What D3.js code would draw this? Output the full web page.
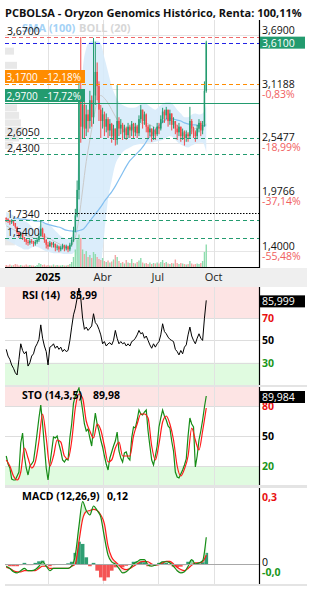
<!DOCTYPE html>
<html>
<head>
<meta charset="utf-8">
<script src="https://cdn.jsdelivr.net/npm/d3@7"></script>
<style>
  body { margin: 0; background: #fff; }
  svg { display: block; font-family: "Open Sans", "Noto Sans", sans-serif; }
</style>
</head>
<body>
<div id="chart"></div>
<script>
const title = "PCBOLSA - Oryzon Genomics Histórico, Renta: 100,11%";

// daily-ish candles, one every 3 days from 24 Oct 2024
const firstOpen = 1.75;
const close = [
  1.74,1.73,1.71,1.72,1.70,1.66,1.60,1.56,1.58,1.55,
  1.53,1.50,1.49,1.51,1.50,1.48,1.50,1.52,1.56,1.64,
  1.58,1.52,1.47,1.45,1.49,1.47,1.48,1.44,1.45,1.42,
  1.44,1.46,1.43,1.45,1.42,1.47,1.52,1.62,1.78,2.05,
  3.05,2.72,2.95,2.70,2.85,2.78,3.00,2.82,3.05,3.30,
  3.15,2.90,2.78,2.85,2.72,2.80,2.68,2.75,2.62,2.70,
  2.58,2.78,2.70,2.74,2.66,2.70,2.63,2.72,2.68,2.75,
  2.66,2.72,2.65,2.80,2.90,2.78,2.85,2.72,2.66,2.70,
  2.62,2.68,2.64,2.72,2.70,2.80,2.88,2.84,2.90,2.78,
  2.86,2.74,2.78,2.70,2.66,2.72,2.62,2.66,2.60,2.64,
  2.62,2.78,2.70,2.66,2.62,2.70,2.76,2.68,2.74,3.10,3.61
];
const high = [
  1.76,1.75,1.73,1.74,1.72,1.70,1.64,1.60,1.60,1.58,
  1.55,1.53,1.52,1.53,1.53,1.51,1.52,1.54,1.59,1.73,
  1.65,1.59,1.53,1.50,1.51,1.50,1.50,1.48,1.47,1.46,
  1.46,1.48,1.47,1.47,1.46,1.49,1.55,1.66,1.85,2.15,
  3.20,3.67,3.10,2.98,2.95,2.90,3.10,3.05,3.66,3.62,
  3.40,3.20,2.95,2.92,2.88,2.86,2.82,2.80,2.76,2.74,
  2.70,3.16,2.82,2.80,2.76,2.74,2.72,2.76,2.74,2.78,
  2.76,2.76,2.74,2.84,2.95,2.88,2.88,2.86,2.74,2.74,
  2.70,2.72,2.70,2.76,2.76,2.84,2.92,2.90,2.93,2.88,
  2.90,2.86,2.82,2.78,2.74,2.76,2.72,2.70,2.68,2.68,
  2.66,2.93,2.80,2.72,2.68,2.74,2.80,2.78,2.78,3.20,3.63
];
const low = [
  1.71,1.70,1.68,1.69,1.67,1.64,1.58,1.54,1.54,1.52,
  1.50,1.47,1.46,1.47,1.48,1.45,1.46,1.48,1.50,1.56,
  1.55,1.49,1.43,1.42,1.45,1.44,1.44,1.40,1.41,1.39,
  1.40,1.42,1.40,1.41,1.39,1.40,1.45,1.50,1.60,1.76,
  1.95,2.55,2.60,2.60,2.62,2.66,2.70,2.72,2.75,2.95,
  3.00,2.78,2.60,2.70,2.62,2.66,2.60,2.62,2.55,2.58,
  2.52,2.53,2.62,2.64,2.58,2.60,2.58,2.60,2.60,2.62,
  2.60,2.62,2.60,2.62,2.76,2.70,2.74,2.66,2.60,2.62,
  2.56,2.58,2.58,2.62,2.64,2.68,2.76,2.76,2.80,2.72,
  2.74,2.68,2.70,2.64,2.58,2.62,2.56,2.58,2.52,2.56,
  2.56,2.60,2.64,2.60,2.56,2.60,2.66,2.62,2.64,2.72,3.08
];
const volume = [
  0.4,0.3,0.5,0.3,0.4,0.6,0.5,0.3,0.4,0.3,
  0.3,0.5,0.3,0.4,0.3,0.3,0.2,0.4,0.8,0.6,
  0.4,0.5,0.3,0.4,0.3,0.3,0.5,0.3,0.4,0.3,
  0.3,0.4,0.3,0.3,0.4,0.6,1.0,2.0,3.5,5.5,
  6.5,5.8,3.5,2.6,3.2,2.0,2.4,1.8,3.0,2.6,
  2.0,1.6,1.4,1.8,1.2,1.0,1.3,0.9,1.1,1.5,
  2.4,2.0,1.2,0.8,1.0,0.7,1.4,0.9,0.8,1.6,
  0.8,0.7,1.0,1.3,1.8,0.9,0.7,0.8,0.6,0.9,
  0.6,0.8,0.7,0.9,0.7,1.0,1.4,0.8,1.0,0.7,
  0.6,0.8,0.7,1.5,0.8,0.6,0.8,0.7,0.6,0.5,
  0.6,1.2,0.7,0.5,0.6,0.7,0.6,0.8,1.2,3.0,4.5
];
const rsi = [
  42,36,33,28,25,21,19,33,47,41,
  38,40,27,30,36,38,44,47,51,64,
  52,45,40,28,44,45,47,43,45,42,
  44,40,42,40,41,50,62,73,79,88,
  97,88,70,60,62,59,61,63,74,66,
  64,60,55,47,49,45,47,48,46,50,
  59,52,47,49,47,48,45,47,45,49,
  50,52,55,59,56,57,52,54,50,46,
  43,47,44,47,49,55,65,58,56,53,
  51,50,49,42,40,37,41,38,44,46,
  55,62,54,50,47,52,56,52,50,70,86
];
const stoK = [
  30,22,18,7,6,6,10,14,43,53,
  30,18,11,20,22,25,38,53,68,81,
  62,40,18,6,22,35,49,48,50,42,
  35,26,24,27,26,48,62,83,90,94,
  98,88,76,62,55,57,48,40,58,73,
  62,55,46,39,30,22,16,28,34,40,
  45,54,35,28,24,33,34,28,26,48,
  59,58,66,76,72,71,74,76,55,40,
  26,21,30,40,59,68,76,70,66,60,
  58,45,35,14,9,8,12,16,21,27,
  50,68,62,59,19,30,46,55,66,79,90
];

// smoother series, one every 6 days
const stoD = [
  26,20,10,6,14,38,28,18,24,45,
  72,48,20,30,46,44,30,27,45,78,
  92,88,65,55,48,62,56,40,24,26,
  38,44,30,30,30,50,62,72,72,68,
  40,26,42,64,70,62,46,20,10,17,
  30,58,46,36,55,78
];
const macd = [
  -0.01,-0.02,-0.035,-0.04,-0.03,-0.02,-0.03,-0.03,-0.025,-0.01,
  0.01,-0.01,-0.03,-0.02,-0.02,-0.02,-0.02,-0.02,-0.01,0.04,
  0.17,0.28,0.24,0.22,0.26,0.24,0.21,0.12,0.04,0.01,
  0.00,-0.02,-0.04,-0.035,-0.02,0.00,0.01,0.02,0.02,-0.005,
  -0.01,-0.005,0.00,0.01,0.01,0.005,-0.01,-0.03,-0.04,-0.035,
  -0.01,0.02,0.00,0.005,0.015,0.12
];
const signal = [
  -0.015,-0.02,-0.03,-0.035,-0.035,-0.03,-0.03,-0.03,-0.03,-0.02,
  -0.01,-0.01,-0.02,-0.02,-0.02,-0.02,-0.02,-0.02,-0.01,0.00,
  0.10,0.20,0.235,0.24,0.245,0.24,0.22,0.18,0.08,0.03,
  0.01,-0.005,-0.02,-0.025,-0.02,-0.01,0.00,0.01,0.012,0.01,
  0.00,-0.005,-0.003,0.005,0.012,0.012,0.00,-0.015,-0.025,-0.03,
  -0.02,-0.005,0.005,0.005,0.01,0.04
];
const macdHist = [
  -0.005,-0.01,-0.01,-0.01,-0.005,0.005,-0.005,-0.005,0.005,0.012,
  0.015,-0.005,-0.01,-0.005,-0.003,0,0,0.003,0.01,0.05,
  0.10,0.09,0.03,-0.01,0.005,-0.03,-0.06,-0.075,-0.06,-0.03,
  -0.015,-0.01,-0.015,-0.008,0,0.01,0.012,0.012,0.008,-0.01,
  -0.008,0,0.005,0.01,0.005,-0.005,-0.012,-0.015,-0.012,-0.005,
  0.01,0.018,0.005,0.002,0.008,0.05
];
const sma100 = [
  null,null,1.75,1.75,1.74,1.74,1.73,1.73,1.72,1.72,
  1.71,1.69,1.68,1.67,1.66,1.65,1.63,1.62,1.615,1.61,
  1.62,1.63,1.67,1.72,1.77,1.82,1.87,1.93,1.98,2.03,
  2.09,2.16,2.23,2.30,2.36,2.40,2.44,2.48,2.53,2.59,
  2.64,2.69,2.73,2.77,2.80,2.81,2.80,2.79,2.78,2.76,
  2.75,2.74,2.74,2.73,2.73,2.73
];
const bollUp = [
  1.82,1.80,1.78,1.76,1.74,1.72,1.70,1.66,1.62,1.66,
  1.70,1.70,1.68,1.64,1.60,1.56,1.54,1.53,1.56,1.70,
  2.60,3.30,3.55,3.62,3.63,3.63,3.60,3.45,3.30,3.15,
  3.05,2.98,2.95,2.93,2.92,2.92,2.93,2.96,2.97,2.95,
  2.92,2.90,2.93,2.96,2.98,2.98,2.95,2.90,2.86,2.82,
  2.82,2.85,2.86,2.85,2.86,2.95
];
const bollMid = [
  1.67,1.65,1.63,1.61,1.59,1.57,1.56,1.55,1.535,1.55,
  1.56,1.55,1.535,1.51,1.49,1.47,1.455,1.45,1.465,1.55,
  1.75,2.05,2.35,2.58,2.80,2.98,3.05,3.02,2.97,2.90,
  2.83,2.76,2.72,2.70,2.70,2.71,2.72,2.75,2.76,2.75,
  2.73,2.71,2.73,2.76,2.79,2.80,2.77,2.73,2.69,2.66,
  2.65,2.68,2.70,2.70,2.71,2.75
];
const bollLow = [
  1.52,1.50,1.48,1.46,1.44,1.42,1.42,1.44,1.45,1.44,
  1.42,1.40,1.39,1.38,1.38,1.38,1.37,1.37,1.37,1.40,
  1.22,1.15,1.10,1.10,1.12,1.15,1.25,1.60,1.95,2.15,
  2.32,2.40,2.45,2.48,2.50,2.52,2.53,2.54,2.55,2.55,
  2.55,2.56,2.57,2.58,2.60,2.62,2.60,2.56,2.53,2.51,
  2.50,2.52,2.54,2.55,2.55,2.45
];

// volume by price (left side)
const profPrice  = [3.52, 3.37, 3.23, 3.08, 2.92, 2.84, 2.76, 2.68, 2.60, 2.52, 1.72, 1.50];
const profVolume = [30, 40, 33, 27, 40, 47, 53, 60, 47, 27, 20, 33];

// price axis on the right (top tick's percent sits under the last-price box)
const tickVals = [3.69, 3.1188, 2.5477, 1.9766, 1.40];
const tickText = ["3,6900", "3,1188", "2,5477", "1,9766", "1,4000"];
const tickPct  = ["", "-0,83%", "-18,99%", "-37,14%", "-55,48%"];

// horizontal levels
const levelVals = [3.67, 3.61, 3.17, 2.97, 2.605, 2.43, 1.805, 1.734, 1.54];
const levelText = ["3,6700", "", "3,1700", "2,9700", "2,6050", "2,4300", "", "1,7340", "1,5400"];
const levelPct  = ["", "", "-12,18%", "-17,72%", "", "", "", "", ""];
const levelKind = ["max", "last", "orange", "entry", "support", "support", "dotted", "support", "support"];
const lastPrice = "3,6100";

const monthDates  = [new Date(2025, 0, 1), new Date(2025, 3, 1), new Date(2025, 6, 1), new Date(2025, 9, 1)];
const monthLabels = ["2025", "Abr", "Jul", "Oct"];

const rsiLast = "85,999", rsiTitle = "RSI (14)", rsiTitleVal = "85,99";
const stoLast = "89,984", stoTitle = "STO (14,3,5)", stoTitleVal = "89,98";
const macdTitle = "MACD (12,26,9)", macdTitleVal = "0,12";

// ---------------------------------------------------------------
const W = 313, H = 590, L = 5, R = 259;
const GREEN = "#239b6f", RED = "#f24a4a";

const start = new Date(2024, 9, 24);
const days3 = close.map((_, i) => d3.timeDay.offset(start, i * 3));
const days6 = stoD.map((_, i) => d3.timeDay.offset(start, i * 6));

const x = d3.scaleTime().domain([new Date(2024, 9, 22), new Date(2025, 11, 15)]).range([L, R]);

const pMain = [20, 268], pRsi = [287, 385], pSto = [387, 485], pMacd = [488, 584];
const yP = d3.scaleLinear().domain([1.223, 3.85]).range([268, 20]);
const yV = d3.scaleLinear().domain([0, 12]).range([267, 207]);
const yR = d3.scaleLinear().domain([10, 98]).range([385, 287]);
const yS = d3.scaleLinear().domain([1, 99]).range([485, 387]);
const yM = d3.scaleLinear().domain([-0.0897, 0.3408]).range([584, 488]);
const wProf = d3.scaleLinear().domain([0, 100]).range([0, 30]);

const svg = d3.select("#chart").append("svg").attr("width", W).attr("height", H);
const defs = svg.append("defs");
[["clipMain", pMain], ["clipRsi", pRsi], ["clipSto", pSto], ["clipMacd", pMacd]].forEach(([id, p]) => {
  defs.append("clipPath").attr("id", id).append("rect")
    .attr("x", L).attr("y", p[0]).attr("width", R - L).attr("height", p[1] - p[0]);
});

function hline(g, y, x1, x2, stroke, dash, w) {
  return g.append("line").attr("x1", x1).attr("x2", x2)
    .attr("y1", Math.round(y) + 0.5).attr("y2", Math.round(y) + 0.5)
    .attr("stroke", stroke).attr("stroke-width", w || 1)
    .attr("stroke-dasharray", dash || null);
}
function txt(g, xx, yy, s, size, fill, weight) {
  return g.append("text").attr("x", xx).attr("y", yy).text(s)
    .attr("font-size", size).attr("fill", fill || "#000").attr("font-weight", weight || 400);
}
function vgrid(g, p) {
  g.selectAll(null).data(monthDates).join("line")
    .attr("x1", d => Math.round(x(d)) + 0.5).attr("x2", d => Math.round(x(d)) + 0.5)
    .attr("y1", p[0]).attr("y2", p[1]).attr("stroke", "#e2e2e2");
}
function axisLine(g, p) {
  g.append("line").attr("x1", R + 0.5).attr("x2", R + 0.5).attr("y1", p[0]).attr("y2", p[1])
    .attr("stroke", "#000").attr("stroke-width", 1.2);
}

// separators and x band
svg.append("rect").attr("x", 0).attr("y", 268).attr("width", 307).attr("height", 19).attr("fill", "#efefef");
[[385, 2], [485, 3], [584, 2]].forEach(([yy, h]) => {
  svg.append("rect").attr("x", L).attr("y", yy).attr("width", 302).attr("height", h).attr("fill", "#e4e4e4");
});

// ================= MAIN =================
const gm = svg.append("g");
tickVals.forEach(v => hline(gm, yP(v), L, R, "#e6e6e6"));
vgrid(gm, pMain);

const gc = gm.append("g").attr("clip-path", "url(#clipMain)");
gc.selectAll(".prof").data(profPrice).join("rect")
  .attr("x", L).attr("y", d => yP(d + 0.037)).attr("height", d => yP(d - 0.037) - yP(d + 0.037))
  .attr("width", (d, i) => wProf(profVolume[i])).attr("fill", "#e8e8e8");

gc.append("path").datum(days6.map((d, i) => [d, bollLow[i], bollUp[i]]))
  .attr("d", d3.area().x(d => x(d[0])).y0(d => yP(d[1])).y1(d => yP(d[2])).curve(d3.curveMonotoneX))
  .attr("fill", "#d7ebfb").attr("opacity", 0.9);

const candles = days3.map((d, i) => ({
  d, o: i ? close[i - 1] : firstOpen, c: close[i], h: high[i], l: low[i], v: volume[i]
}));

gc.selectAll(".vol").data(candles).join("rect")
  .attr("x", d => x(d.d) - 0.7).attr("width", 1.4)
  .attr("y", d => yV(d.v)).attr("height", d => yV(0) - yV(d.v))
  .attr("fill", d => d.c >= d.o ? "#8edcae" : "#f5a5a5");

gc.append("path").datum(days6.map((d, i) => [d, bollMid[i]]))
  .attr("d", d3.line().x(d => x(d[0])).y(d => yP(d[1])).curve(d3.curveMonotoneX))
  .attr("fill", "none").attr("stroke", "#cacaca").attr("stroke-width", 1);

gc.append("path").datum(days6.map((d, i) => [d, sma100[i]]))
  .attr("d", d3.line().defined(d => d[1] != null).x(d => x(d[0])).y(d => yP(d[1])).curve(d3.curveMonotoneX))
  .attr("fill", "none").attr("stroke", "#82bff0").attr("stroke-width", 1.2);

const cg = gc.append("g");
cg.selectAll("line").data(candles).join("line")
  .attr("x1", d => x(d.d)).attr("x2", d => x(d.d))
  .attr("y1", d => yP(Math.max(d.h, d.o, d.c))).attr("y2", d => yP(Math.min(d.l, d.o, d.c)))
  .attr("stroke", d => d.c >= d.o ? GREEN : RED).attr("stroke-width", 1);
cg.selectAll("rect").data(candles).join("rect")
  .attr("x", d => x(d.d) - 0.75).attr("width", 1.5)
  .attr("y", d => yP(Math.max(d.o, d.c)))
  .attr("height", d => Math.max(1, Math.abs(yP(d.o) - yP(d.c))))
  .attr("fill", d => d.c >= d.o ? GREEN : RED);

// level lines
const levelStyle = {
  max:     { stroke: "#f06a6a", dash: "4,3" },
  last:    { stroke: "#2323e6", dash: "4,3" },
  orange:  { stroke: "#ff8c00", dash: "4,3" },
  entry:   { stroke: GREEN, dash: null },
  support: { stroke: GREEN, dash: "4,3" },
  dotted:  { stroke: "#000", dash: "1.5,1.5" }
};
levelVals.forEach((v, i) => {
  const st = levelStyle[levelKind[i]];
  const x1 = levelKind[i] === "dotted" ? x(new Date(2024, 11, 27)) : L;
  hline(gm, yP(v), x1, R, st.stroke, st.dash, levelKind[i] === "entry" ? 1.2 : 1);
});

axisLine(gm, pMain);
gm.append("line").attr("x1", L).attr("x2", R + 1).attr("y1", 267.5).attr("y2", 267.5)
  .attr("stroke", "#000").attr("stroke-width", 1.2);

// legend
txt(gm, 22, 32, "SMA (100)", 11, "#a4d2f6", 700);
txt(gm, 79, 32, "BOLL (20)", 11, "#d6d6d6", 700);

// level labels
levelVals.forEach((v, i) => {
  if (!levelText[i]) return;
  const yy = Math.round(yP(v));
  const k = levelKind[i];
  if (k === "orange" || k === "entry") {
    gm.append("rect").attr("x", L).attr("y", yy - 14).attr("width", 80).attr("height", 13)
      .attr("fill", k === "orange" ? "#ff8c00" : GREEN);
    txt(gm, 6.5, yy - 3.5, levelText[i], 10, "#fff");
    txt(gm, 44, yy - 3.5, levelPct[i], 10, "#fff");
  } else {
    txt(gm, 7, yy - 2, levelText[i], 10.5, "#111");
  }
});

// right price axis
tickVals.forEach((v, i) => {
  const yy = yP(v);
  txt(gm, 262, yy - 1.5, tickText[i], 10.5, "#111");
  if (tickPct[i]) txt(gm, 262, yy + 8.5, tickPct[i], 10.5, "#f06060");
});
const yl = yP(levelVals[1]);
gm.append("rect").attr("x", 260).attr("y", yl - 6).attr("width", 45).attr("height", 12).attr("fill", GREEN);
txt(gm, 262, yl + 4, lastPrice, 10.5, "#fff");

// x labels
monthDates.forEach((d, i) => {
  txt(svg, x(d), 281, monthLabels[i], 11, i === 0 ? "#000" : "#222", i === 0 ? 700 : 400)
    .attr("text-anchor", "middle");
});

// ================= RSI =================
const gr = svg.append("g");
gr.append("rect").attr("x", L).attr("y", pRsi[0]).attr("width", R - L).attr("height", yR(70) - pRsi[0]).attr("fill", "#fde4e4");
gr.append("rect").attr("x", L).attr("y", yR(30)).attr("width", R - L).attr("height", pRsi[1] - yR(30)).attr("fill", "#e0fbe0");
[70, 50, 30].forEach(v => hline(gr, yR(v), L, R, "#dddddd"));
vgrid(gr, pRsi);
gr.append("path").datum(days3.map((d, i) => [d, rsi[i]]))
  .attr("clip-path", "url(#clipRsi)")
  .attr("d", d3.line().x(d => x(d[0])).y(d => yR(d[1])))
  .attr("fill", "none").attr("stroke", "#000").attr("stroke-width", 1);
axisLine(gr, pRsi);
txt(gr, 22, 299, rsiTitle, 10.5, "#000", 700);
txt(gr, 70, 299, rsiTitleVal, 10.5, "#000", 700);
gr.append("rect").attr("x", 260).attr("y", yR(rsi[rsi.length - 1]) - 5).attr("width", 45).attr("height", 12).attr("fill", "#000");
txt(gr, 262, yR(rsi[rsi.length - 1]) + 5, rsiLast, 10.5, "#fff");
txt(gr, 262, yR(70) + 4, "70", 10.5, "#e81010", 700);
txt(gr, 262, yR(50) + 4, "50", 10.5, "#000", 700);
txt(gr, 262, yR(30) + 4, "30", 10.5, "#1a961a", 700);

// ================= STO =================
const gs = svg.append("g");
gs.append("rect").attr("x", L).attr("y", pSto[0]).attr("width", R - L).attr("height", yS(80) - pSto[0]).attr("fill", "#fde4e4");
gs.append("rect").attr("x", L).attr("y", yS(20)).attr("width", R - L).attr("height", pSto[1] - yS(20)).attr("fill", "#e0fbe0");
[80, 50, 20].forEach(v => hline(gs, yS(v), L, R, "#dddddd"));
vgrid(gs, pSto);
gs.append("path").datum(days3.map((d, i) => [d, stoK[i]]))
  .attr("clip-path", "url(#clipSto)")
  .attr("d", d3.line().x(d => x(d[0])).y(d => yS(d[1])))
  .attr("fill", "none").attr("stroke", "#168c16").attr("stroke-width", 1.2);
gs.append("path").datum(days6.map((d, i) => [d, stoD[i]]))
  .attr("clip-path", "url(#clipSto)")
  .attr("d", d3.line().x(d => x(d[0])).y(d => yS(d[1])).curve(d3.curveMonotoneX))
  .attr("fill", "none").attr("stroke", "#ff1a1a").attr("stroke-width", 1.2);
axisLine(gs, pSto);
txt(gs, 22, 399, stoTitle, 10.5, "#000", 700);
txt(gs, 93, 399, stoTitleVal, 10.5, "#000", 700);
txt(gs, 262, yS(80) + 4, "80", 10.5, "#e81010", 700);
gs.append("rect").attr("x", 260).attr("y", yS(stoK[stoK.length - 1]) - 5).attr("width", 45).attr("height", 12).attr("fill", "#000");
txt(gs, 262, yS(stoK[stoK.length - 1]) + 5, stoLast, 10.5, "#fff");
txt(gs, 262, yS(50) + 4, "50", 10.5, "#000", 700);
txt(gs, 262, yS(20) + 4, "20", 10.5, "#1a961a", 700);

// ================= MACD =================
const gd = svg.append("g");
vgrid(gd, pMacd);
const gdc = gd.append("g").attr("clip-path", "url(#clipMacd)");
gdc.selectAll(".h").data(days6).join("rect")
  .attr("x", d => x(d) - 1.8).attr("width", 3.65)
  .attr("y", (d, i) => yM(Math.max(0, macdHist[i])))
  .attr("height", (d, i) => Math.abs(yM(macdHist[i]) - yM(0)))
  .attr("fill", (d, i) => macdHist[i] >= 0 ? "#2e9e72" : "#f45454");
const segs = d3.range(days6.length - 1);
gdc.selectAll(".f").data(segs).join("path")
  .attr("d", i => {
    const a = x(days6[i]), b = x(days6[i + 1]);
    return `M${a},${yM(macd[i])}L${b},${yM(macd[i + 1])}L${b},${yM(signal[i + 1])}L${a},${yM(signal[i])}Z`;
  })
  .attr("fill", i => (macd[i] + macd[i + 1]) >= (signal[i] + signal[i + 1]) ? "#c9f2c9" : "#fbd3d3")
  .attr("opacity", 0.75);
hline(gd, yM(0), L, R, "#a8a8a8");
gdc.append("path").datum(days6.map((d, i) => [d, signal[i]]))
  .attr("d", d3.line().x(d => x(d[0])).y(d => yM(d[1])).curve(d3.curveMonotoneX))
  .attr("fill", "none").attr("stroke", "#ff1a1a").attr("stroke-width", 1.2);
gdc.append("path").datum(days6.map((d, i) => [d, macd[i]]))
  .attr("d", d3.line().x(d => x(d[0])).y(d => yM(d[1])).curve(d3.curveMonotoneX))
  .attr("fill", "none").attr("stroke", "#168c16").attr("stroke-width", 1.2);
axisLine(gd, pMacd);
txt(gd, 22, 500, macdTitle, 10.5, "#000", 700);
txt(gd, 107, 500, macdTitleVal, 10.5, "#000", 700);
txt(gd, 262, yM(0.3) + 4, "0,3", 10.5, "#e81010", 700);
txt(gd, 262, yM(0) + 2, "0", 10.5, "#000", 400);
txt(gd, 262, yM(0) + 12, "-0,0", 10.5, "#1a961a", 700);

// ================= TITLE =================
const tt = txt(svg, 5, 17, title, 12, "#111", 700);
const tw = tt.node().getComputedTextLength();
if (tw > 297) tt.attr("font-size", 12 * 297 / tw);
</script>
</body>
</html>
